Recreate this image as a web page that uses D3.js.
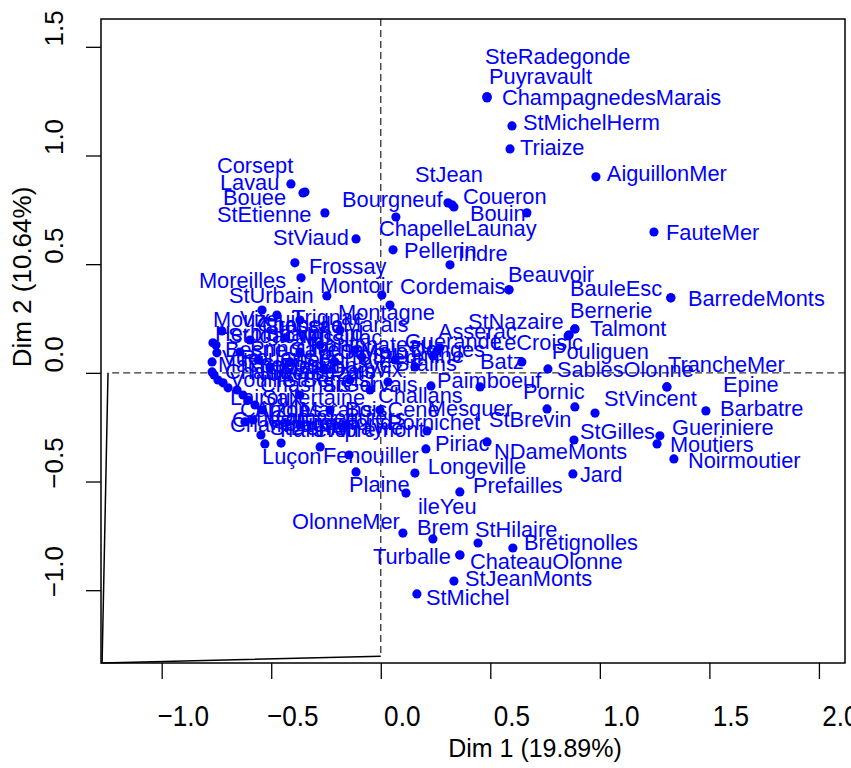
<!DOCTYPE html>
<html>
<head>
<meta charset="utf-8">
<script src="https://cdn.jsdelivr.net/npm/d3@7"></script>
<style>
  body { margin: 0; background: #fff; }
  text { font-family: "Liberation Sans", Arial, Helvetica, sans-serif; }
</style>
</head>
<body>
<div id="chart"></div>
<script>
// individuals of the factor map (Dim 1, Dim 2) and where each label sits
var names = ["SteRadegonde","Puyravault","ChampagnedesMarais","StMichelHerm","Triaize","AiguillonMer",
  "StJean","Coueron","Bourgneuf","Bouin","ChapelleLaunay","FauteMer","Pellerin","Indre","Beauvoir","Cordemais",
  "StViaud","StEtienne","Lavau","Corsept","Bouee","Frossay","Moreilles","StUrbain","Montoir","Montagne",
  "BauleEsc","BarredeMonts","Bernerie","Talmont","StNazaire","LeCroisic","Pouliguen","Batz","SablesOlonne",
  "TrancheMer","Epine","Barbatre","StVincent","Pornic","StBrevin","Paimboeuf","Mesquer","Gueriniere","Moutiers",
  "Noirmoutier","StGilles","NDameMonts","Piriac","Jard","Longeville","Prefailles","Plaine","ileYeu","Fenouiller",
  "Luçon","OlonneMer","Brem","StHilaire","Bretignolles","Turballe","ChateauOlonne","StJeanMonts","StMichel",
  "Challans","Pornichet",
  "Mouzeuil","Vix","Trignac","Crossac","ChapelleMarais","Herbignac","StJoachim","StLyphard","Missillac","Pontchateau",
  "Guerande","Donges","Asserac","Besne","Prinquiau","Savenay","StMalo","Vue","Rouans","Cheix","PortStPere",
  "StLumine","Machecoul","StMesmin","Bouaye","Brains","Chaille","Nalliers","Maillezais","Damvix","Velluire",
  "Vouille","Chasnais","StBenoist","Lairoux","Curzon","Angles","Grues","StDenisPayre","Marans","Champagne",
  "Sallertaine","StGervais","BoisCene","Froidfond","Falleron","Commequiers","Apremont"];

var dim1 = [0.485,0.485,0.485,0.599,0.590,0.982,
  0.307,0.325,0.334,0.667,0.069,1.247,0.056,0.316,0.585,0.585,
  -0.113,-0.255,-0.410,-0.346,-0.355,-0.392,-0.364,-0.246,0.005,0.042,
  1.324,1.324,0.886,0.886,0.859,0.859,0.855,0.644,0.763,
  1.306,1.306,1.484,0.978,0.886,0.759,0.229,0.453,1.274,1.261,
  1.338,0.882,0.485,0.206,0.877,0.156,0.361,-0.113,0.115,-0.145,
  -0.529,0.101,0.238,0.444,0.603,0.361,0.361,0.334,0.165,
  0.033,0.211,
  -0.725,-0.542,-0.474,-0.369,-0.186,-0.752,-0.597,-0.437,-0.277,-0.118,
  0.256,0.238,0.270,-0.766,-0.643,-0.369,-0.086,-0.748,-0.560,-0.414,-0.209,
  0.065,-0.770,-0.506,-0.255,0.156,-0.770,-0.761,-0.743,-0.720,-0.697,
  -0.656,-0.629,-0.606,-0.574,-0.542,-0.620,-0.583,-0.455,-0.547,-0.277,
  -0.369,-0.141,-0.049,-0.232,-0.369,-0.004,-0.163];

var dim2 = [1.270,1.270,1.265,1.136,1.030,0.902,
  0.782,0.773,0.763,0.736,0.717,0.648,0.566,0.497,0.382,0.382,
  0.616,0.736,0.869,0.832,0.828,0.506,0.437,0.354,0.358,0.312,
  0.345,0.345,0.202,0.202,0.174,0.174,0.170,0.050,0.018,
  -0.065,-0.065,-0.175,-0.185,-0.157,-0.166,-0.060,-0.065,-0.290,-0.327,
  -0.396,-0.309,-0.318,-0.350,-0.465,-0.461,-0.548,-0.456,-0.553,-0.378,
  -0.327,-0.737,-0.764,-0.783,-0.806,-0.838,-0.838,-0.958,-1.017,
  -0.042,-0.267,
  0.193,0.289,0.266,0.243,0.197,0.128,0.151,0.161,0.128,0.105,
  0.101,0.078,0.115,0.138,0.096,0.096,0.073,0.092,0.059,0.050,0.050,
  0.059,0.050,0.023,0.013,0.027,0.004,-0.010,-0.033,-0.046,-0.069,
  -0.079,-0.102,-0.125,-0.148,-0.171,-0.226,-0.217,-0.323,-0.286,-0.341,
  -0.102,-0.033,-0.079,-0.171,-0.240,-0.171,-0.240];

// label start (Dim 1) and baseline (Dim 2)
var labelDim1 = [0.476,0.494,0.553,0.649,0.635,1.032,
  0.156,0.375,-0.177,0.407,-0.008,1.302,0.106,0.352,0.581,0.088,
  -0.492,-0.748,-0.734,-0.748,-0.720,-0.328,-0.830,-0.693,-0.277,-0.195,
  0.864,1.402,0.864,0.955,0.398,0.508,0.781,0.453,0.804,
  1.311,1.562,1.548,1.019,0.649,0.494,0.257,0.215,1.329,1.320,
  1.402,0.909,0.517,0.247,0.909,0.215,0.421,-0.145,0.170,-0.264,
  -0.542,-0.405,0.165,0.430,0.654,-0.036,0.407,0.384,0.206,
  -0.013,0.033,
  -0.766,-0.643,-0.405,-0.542,-0.565,-0.757,-0.697,-0.529,-0.369,-0.323,
  0.110,0.133,0.261,-0.711,-0.597,-0.414,-0.186,-0.725,-0.643,-0.460,-0.287,
  -0.040,-0.743,-0.551,-0.287,0.065,-0.711,-0.597,-0.460,-0.232,-0.524,
  -0.688,-0.551,-0.451,-0.688,-0.643,-0.574,-0.679,-0.506,-0.369,-0.688,
  -0.542,-0.268,-0.163,-0.369,-0.460,-0.506,-0.232];

var labelDim2 = [1.422,1.330,1.233,1.118,1.003,0.883,
  0.879,0.777,0.763,0.699,0.630,0.612,0.529,0.515,0.418,0.363,
  0.589,0.694,0.842,0.920,0.773,0.455,0.391,0.322,0.368,0.243,
  0.354,0.308,0.253,0.170,0.202,0.105,0.064,0.018,-0.019,
  0.004,-0.088,-0.198,-0.152,-0.120,-0.249,-0.069,-0.198,-0.286,-0.364,
  -0.438,-0.304,-0.396,-0.359,-0.502,-0.465,-0.553,-0.548,-0.649,-0.415,
  -0.419,-0.718,-0.746,-0.755,-0.815,-0.879,-0.902,-0.981,-1.068,
  -0.139,-0.263,
  0.211,0.216,0.220,0.184,0.188,0.147,0.138,0.147,0.129,0.096,
  0.110,0.073,0.156,0.073,0.078,0.073,0.064,0.036,0.036,0.027,0.036,
  0.046,0.004,0.000,0.000,0.009,-0.028,-0.033,-0.028,-0.019,-0.263,
  -0.065,-0.088,-0.065,-0.148,-0.203,-0.203,-0.249,-0.286,-0.203,-0.272,
  -0.148,-0.088,-0.203,-0.263,-0.295,-0.240,-0.295];

var xTicks = [-1.0, -0.5, 0.0, 0.5, 1.0, 1.5, 2.0];
var yTicks = [-1.0, -0.5, 0.0, 0.5, 1.0, 1.5];
var xTitle = "Dim 1 (19.89%)";
var yTitle = "Dim 2 (10.64%)";
// stray frame line of the original device, in data units
var strayLine = [[-1.245, 0.0], [-1.272, -1.335], [0.0, -1.304]];

var width = 851, height = 768;
var margin = {top: 19, right: 6, bottom: 105, left: 101};

var svg = d3.select("#chart")
  .append("svg")
    .attr("width", width)
    .attr("height", height);

var x = d3.scaleLinear()
  .domain([-1.277, 2.119])
  .range([margin.left, width - margin.right]);
var y = d3.scaleLinear()
  .domain([-1.335, 1.628])
  .range([height - margin.bottom, margin.top]);

var blue = "#0000ff";

// dashed axes through the origin
svg.append("line")
  .attr("x1", x(-1.226)).attr("x2", x(2.119))
  .attr("y1", y(0)).attr("y2", y(0))
  .attr("stroke", "#333").attr("stroke-width", 1.3)
  .attr("stroke-dasharray", "7,4");
svg.append("line")
  .attr("x1", x(0)).attr("x2", x(0))
  .attr("y1", y(1.628)).attr("y2", y(-1.304))
  .attr("stroke", "#333").attr("stroke-width", 1.3)
  .attr("stroke-dasharray", "7,4");

svg.append("path")
  .attr("d", d3.line().x(function(d) { return x(d[0]); }).y(function(d) { return y(d[1]); })(strayLine))
  .attr("fill", "none")
  .attr("stroke", "#000")
  .attr("stroke-width", 1.5);

// points
var idx = d3.range(names.length);
svg.append("g")
  .selectAll("circle")
  .data(idx)
  .enter()
  .append("circle")
    .attr("cx", function(i) { return x(dim1[i]); })
    .attr("cy", function(i) { return y(dim2[i]); })
    .attr("r", 4.6)
    .attr("fill", blue);

// labels
svg.append("g")
  .selectAll("text")
  .data(idx)
  .enter()
  .append("text")
    .attr("x", function(i) { return x(labelDim1[i]); })
    .attr("y", function(i) { return y(labelDim2[i]); })
    .attr("font-size", 21.8)
    .attr("fill", blue)
    .text(function(i) { return names[i]; });

// box
svg.append("rect")
  .attr("x", x.range()[0]).attr("y", y.range()[1])
  .attr("width", x.range()[1] - x.range()[0])
  .attr("height", y.range()[0] - y.range()[1])
  .attr("fill", "none")
  .attr("stroke", "#000")
  .attr("stroke-width", 1.5);

// x axis
var xAxis = svg.append("g")
  .attr("transform", "translate(0," + y.range()[0] + ")")
  .call(d3.axisBottom(x).tickValues(xTicks).tickSize(16).tickFormat(d3.format(".1f")));
xAxis.select(".domain").remove();
xAxis.selectAll(".tick line").attr("stroke-width", 1.3);
xAxis.selectAll(".tick text")
  .attr("font-size", 30)
  .attr("font-family", "Liberation Sans, Arial, sans-serif")
  .attr("fill", "#000")
  .attr("dy", 0)
  .attr("y", 63)
  .attr("x", 21 / 0.87)
  .attr("transform", "scale(0.87,1)");

// y axis
var yAxis = svg.append("g")
  .attr("transform", "translate(" + x.range()[0] + ",0)")
  .call(d3.axisLeft(y).tickValues(yTicks).tickSize(15).tickFormat(d3.format(".1f")));
yAxis.select(".domain").remove();
yAxis.selectAll(".tick line").attr("stroke-width", 1.3);
yAxis.selectAll(".tick text").remove();
svg.append("g")
  .selectAll("text")
  .data(yTicks)
  .enter()
  .append("text")
    .attr("transform", function(d) { return "translate(63," + (y(d) - 18.5) + ") rotate(-90)"; })
    .attr("text-anchor", "middle")
    .attr("font-size", 26)
    .attr("fill", "#000")
    .text(d3.format(".1f"));

// axis titles
svg.append("text")
  .attr("x", 535).attr("y", 757)
  .attr("text-anchor", "middle")
  .attr("font-size", 25)
  .text(xTitle);
svg.append("text")
  .attr("transform", "translate(31,277) rotate(-90)")
  .attr("text-anchor", "middle")
  .attr("font-size", 26)
  .text(yTitle);
</script>
</body>
</html>
